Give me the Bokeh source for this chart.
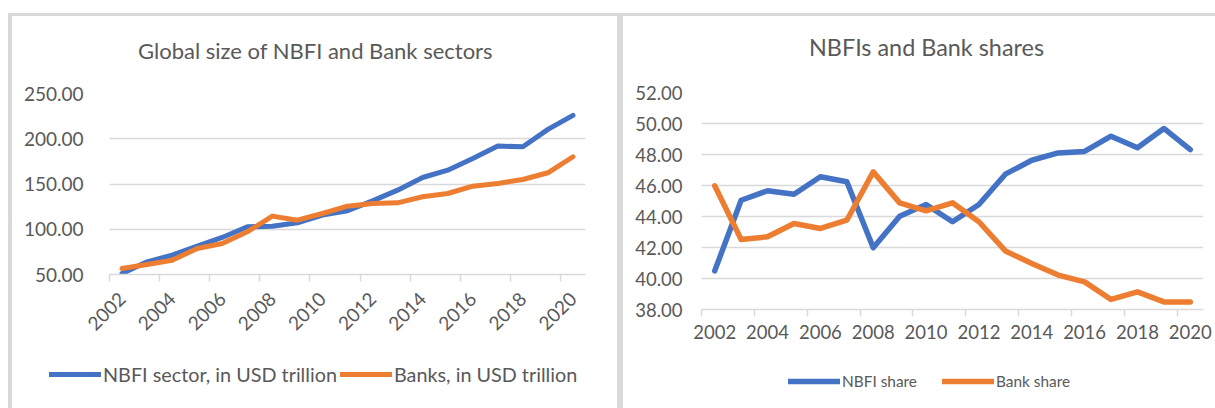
import math
from bokeh.plotting import figure
from bokeh.models import (Range1d, FixedTicker, PrintfTickFormatter, Legend, LegendItem,
                          Label, Div, Spacer)
from bokeh.layouts import row, column
from bokeh.embed import file_html
from bokeh.resources import INLINE

# ---------------- data ----------------
years = list(range(2002, 2021))
tick_years = [2002, 2004, 2006, 2008, 2010, 2012, 2014, 2016, 2018, 2020]

nbfi_size = [51.0, 64.0, 71.4, 81.3, 90.9, 102.7, 103.4, 107.1, 115.6, 120.4,
             131.4, 143.2, 157.2, 165.3, 178.2, 191.9, 191.1, 210.3, 225.8]
bank_size = [56.6, 61.0, 65.8, 78.7, 84.3, 97.2, 114.5, 110.0, 117.4, 125.5,
             128.5, 129.2, 135.9, 139.5, 147.6, 150.6, 155.0, 162.4, 180.1]

nbfi_share = [40.49, 45.05, 45.66, 45.44, 46.56, 46.24, 41.98, 44.02, 44.77, 43.66,
              44.77, 46.73, 47.63, 48.10, 48.20, 49.18, 48.43, 49.68, 48.32]
bank_share = [45.98, 42.52, 42.69, 43.55, 43.23, 43.76, 46.88, 44.88, 44.37, 44.88,
              43.66, 41.78, 40.97, 40.22, 39.78, 38.65, 39.14, 38.49, 38.49]

left_yticks = [50, 100, 150, 200, 250]
right_yticks = [38, 40, 42, 44, 46, 48, 50, 52]

left_title = "Global size of NBFI and Bank sectors"
right_title = "NBFIs and Bank shares"
left_labels = ["NBFI sector, in USD trillion", "Banks, in USD trillion"]
right_labels = ["NBFI share", "Bank share"]

# ---------------- style ----------------
BLUE = "#4472C4"
ORANGE = "#ED7D31"
GRID = "#d9d9d9"
TXT = "#595959"
FONT = "Lato"

minor = [y - 0.5 for y in tick_years]
NAN2 = [math.nan, math.nan]


def blank_fig(w, h):
    p = figure(width=w, height=h, output_backend="svg", toolbar_location=None,
               x_range=Range1d(0, w), y_range=Range1d(0, h),
               x_axis_location=None, y_axis_location=None, min_border=0)
    p.outline_line_color = None
    p.grid.grid_line_color = None
    p.background_fill_color = "white"
    p.border_fill_color = "white"
    return p


def base_fig(w, h, ml, mr, mt, mb, yr, yt):
    p = figure(width=w, height=h, output_backend="svg", toolbar_location=None,
               x_range=Range1d(2001.5, 2020.5), y_range=Range1d(*yr),
               min_border_left=ml, min_border_right=mr,
               min_border_top=mt, min_border_bottom=mb)
    p.outline_line_color = None
    p.background_fill_color = "white"
    p.border_fill_color = "white"
    p.xgrid.grid_line_color = None
    p.ygrid.grid_line_color = GRID
    p.ygrid.grid_line_width = 1.5
    p.ygrid.ticker = FixedTicker(ticks=yt)
    ya = p.yaxis[0]
    ya.ticker = FixedTicker(ticks=yt)
    ya.formatter = PrintfTickFormatter(format="%.2f")
    ya.axis_line_color = None
    ya.major_tick_line_color = None
    ya.minor_tick_line_color = None
    ya.major_label_text_color = TXT
    ya.major_label_text_font = FONT
    xa = p.xaxis[0]
    xa.ticker = FixedTicker(ticks=tick_years, minor_ticks=minor)
    xa.axis_line_color = GRID
    xa.axis_line_width = 1.5
    xa.major_tick_line_color = None
    xa.major_tick_out = 0
    xa.major_tick_in = 0
    xa.minor_tick_line_color = GRID
    xa.minor_tick_line_width = 1.5
    xa.minor_tick_out = 7
    xa.minor_tick_in = 0
    xa.major_label_text_color = TXT
    xa.major_label_text_font = FONT
    return p


def title_fig(w, h, text, x, y, size):
    t = blank_fig(w, h)
    t.add_layout(Label(x=x, y=y, text=text, text_align="center", text_baseline="middle",
                       text_font=FONT, text_font_size=size, text_color=TXT))
    return t


def legend_fig(w, h, labels, lw, loc, spacing, size):
    f = blank_fig(w, h)
    a = f.line(NAN2, NAN2, line_color=BLUE, line_width=lw, line_cap="round")
    b = f.line(NAN2, NAN2, line_color=ORANGE, line_width=lw, line_cap="round")
    leg = Legend(items=[LegendItem(label=labels[0], renderers=[a]),
                        LegendItem(label=labels[1], renderers=[b])],
                 orientation="horizontal", location=loc,
                 glyph_width=52, glyph_height=20, label_height=20,
                 label_standoff=2, spacing=spacing, padding=0, margin=0,
                 border_line_color=None, background_fill_alpha=0,
                 label_text_font=FONT, label_text_font_size=size,
                 label_text_color=TXT)
    f.add_layout(leg)
    return f


# ---------------- left chart ----------------
LW = 605
t1 = title_fig(LW, 60, left_title, 303, 26, "22px")
p1 = base_fig(LW, 274, 97, 32, 17, 76, (50, 250), left_yticks)
p1.yaxis[0].major_label_text_font_size = "19px"
p1.yaxis[0].major_label_standoff = 20
p1.xaxis[0].major_label_text_font_size = "19px"
p1.xaxis[0].major_label_orientation = math.pi / 4
p1.xaxis[0].major_label_standoff = 14
p1.line(years, nbfi_size, line_color=BLUE, line_width=5, line_join="round", line_cap="round")
p1.line(years, bank_size, line_color=ORANGE, line_width=5, line_join="round", line_cap="round")
g1 = legend_fig(LW, 58, left_labels, 5, (37, 22), 3, "19.8px")

# ---------------- right chart ----------------
RW = 592
t2 = title_fig(RW, 60, right_title, 303, 30, "23.4px")
p2 = base_fig(RW, 279, 78, 12, 16, 46, (38, 52), right_yticks)
p2.yaxis[0].major_label_text_font_size = "18.5px"
p2.yaxis[0].major_label_standoff = 13
p2.xaxis[0].major_label_text_font_size = "18.5px"
p2.xaxis[0].major_label_standoff = 8
p2.line(years, nbfi_share, line_color=BLUE, line_width=5.5, line_join="round", line_cap="round")
p2.line(years, bank_share, line_color=ORANGE, line_width=5.5, line_join="round", line_cap="round")
g2 = legend_fig(RW, 53, right_labels, 5.5, (165, 17), 25, "15.4px")


# ---------------- page layout with panel borders ----------------
def bar(w, h):
    return Div(text="", width=w, height=h, margin=0,
               styles={"background-color": GRID})


left_col = column(bar(609, 3),
                  row(bar(4, 392), column(row(t1), p1, row(g1), spacing=0), spacing=0),
                  spacing=0)
right_col = column(bar(592, 3), row(t2), p2, row(g2), spacing=0)
layout = column(Spacer(width=1215, height=13, margin=0),
                row(Spacer(width=8, height=395, margin=0), left_col, bar(6, 395), right_col,
                    spacing=0),
                spacing=0)

open("out.html", "w").write(file_html(layout, INLINE))
